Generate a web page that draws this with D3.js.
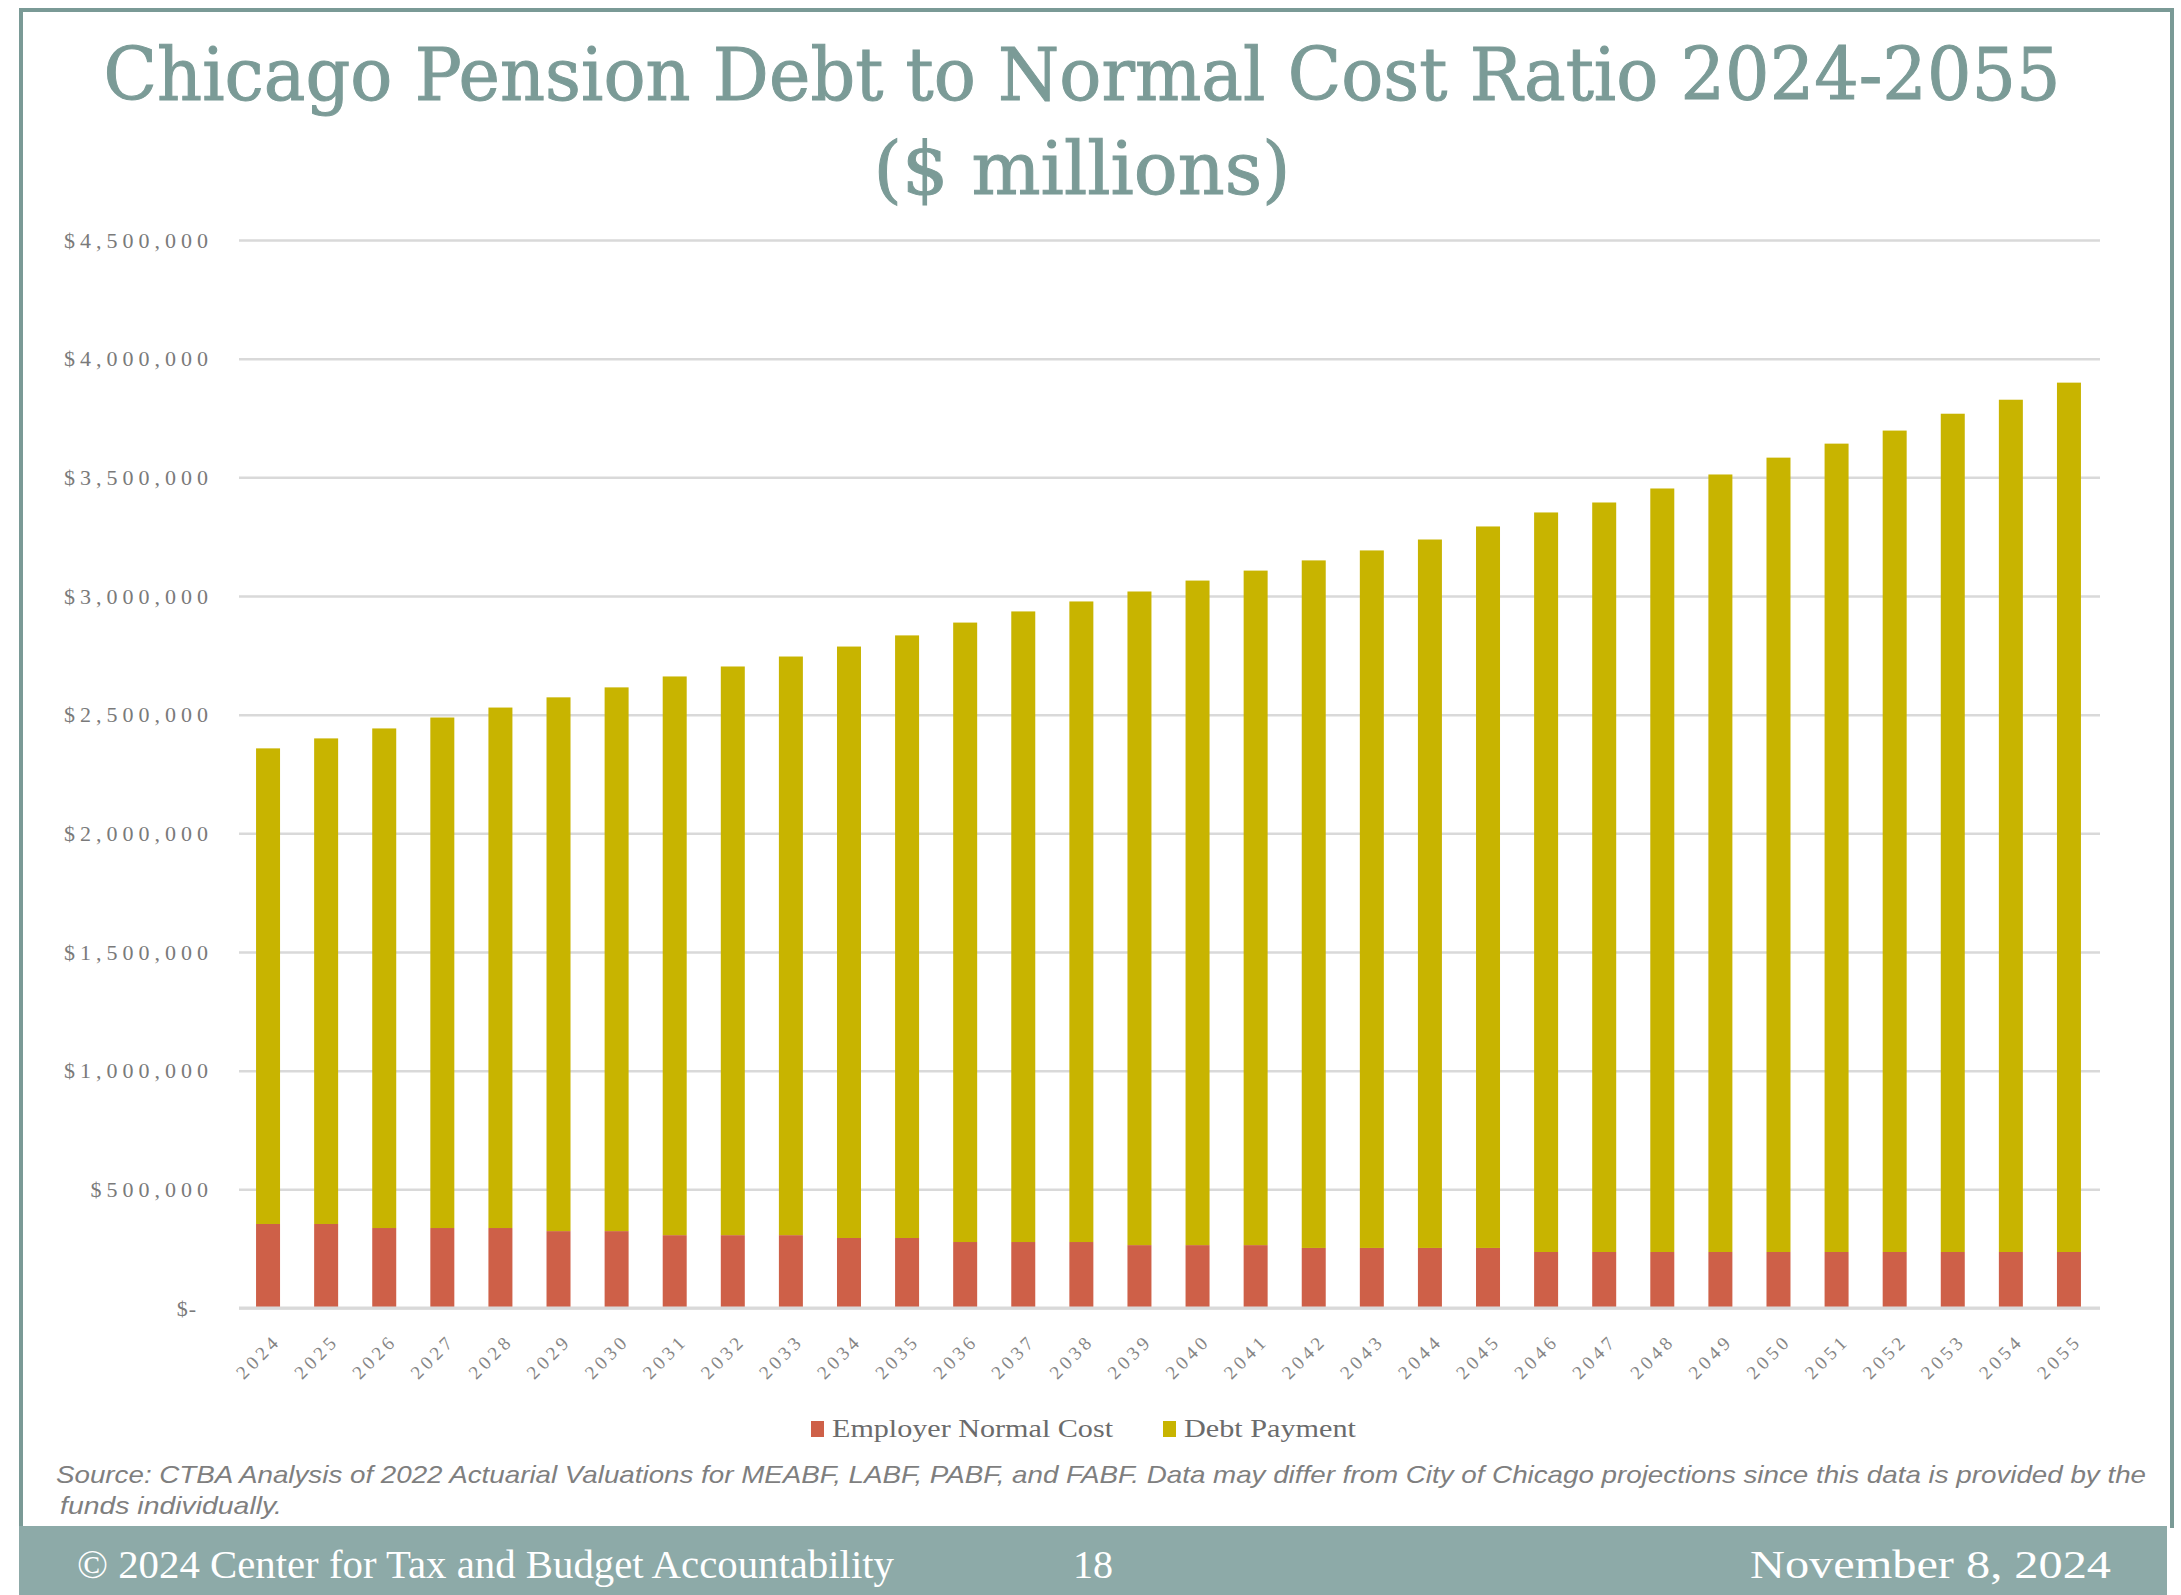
<!DOCTYPE html>
<html>
<head>
<meta charset="utf-8">
<script src="https://cdn.jsdelivr.net/npm/d3@7"></script>
<style>
  html, body { margin: 0; padding: 0; background: #ffffff; }
  svg { display: block; }
</style>
</head>
<body>
<svg id="chart" width="2181" height="1595"></svg>
<script>
// data
var years = d3.range(2024, 2056).map(String);

var normalCost = [
    354000, 354000, 337000, 337000, 337000, 324000, 324000, 307000,
    307000, 307000, 295000, 295000, 278000, 278000, 278000, 265000,
    265000, 265000, 253000, 253000, 253000, 253000, 236000, 236000,
    236000, 236000, 236000, 236000, 236000, 236000, 236000, 236000
];

var debtPayment = [
    2004000, 2046000, 2105000, 2151000, 2193000, 2249000, 2291000, 2354000,
    2396000, 2438000, 2492000, 2539000, 2610000, 2657000, 2699000, 2754000,
    2800000, 2842000, 2897000, 2939000, 2985000, 3040000, 3116000, 3158000,
    3217000, 3276000, 3347000, 3406000, 3461000, 3532000, 3591000, 3663000
];

var seriesNames = ["Employer Normal Cost", "Debt Payment"];
var seriesColors = ["#CE6048", "#C8B400"];
var yTicks = d3.range(0, 4500001, 500000);

var svg = d3.select("#chart");
var frameColor = "#7A9A96";

// slide frame
svg.append("rect").attr("x", 19).attr("y", 8).attr("width", 2155).attr("height", 4).attr("fill", frameColor);
svg.append("rect").attr("x", 19).attr("y", 8).attr("width", 4).attr("height", 1520).attr("fill", frameColor);
svg.append("rect").attr("x", 2170).attr("y", 8).attr("width", 4).attr("height", 1520).attr("fill", frameColor);

// title
svg.append("text")
    .attr("x", 1082).attr("y", 100)
    .attr("text-anchor", "middle")
    .attr("textLength", 1957).attr("lengthAdjust", "spacingAndGlyphs")
    .style("font-family", "'DejaVu Serif', serif")
    .style("font-size", "72px")
    .style("fill", "#7B9B97")
    .style("stroke", "#7B9B97")
    .style("stroke-width", 1)
    .text("Chicago Pension Debt to Normal Cost Ratio 2024-2055");

svg.append("text")
    .attr("x", 1082).attr("y", 194)
    .attr("text-anchor", "middle")
    .attr("textLength", 417).attr("lengthAdjust", "spacingAndGlyphs")
    .style("font-family", "'DejaVu Serif', serif")
    .style("font-size", "72px")
    .style("fill", "#7B9B97")
    .style("stroke", "#7B9B97")
    .style("stroke-width", 1)
    .text("($ millions)");

// scales
var xScale = d3.scaleBand()
    .domain(years)
    .range([239, 2098])
    .paddingInner(0.587)
    .paddingOuter(0.2935);

var yScale = d3.scaleLinear()
    .domain([0, 4500000])
    .range([1308, 240]);

// y axis + gridlines
var yAxis = d3.axisLeft(yScale)
    .tickValues(yTicks)
    .tickSize(-1861)
    .tickPadding(26)
    .tickFormat(function(d) { return d === 0 ? "$-" : "$" + d3.format(",")(d); });

var gy = svg.append("g")
    .attr("class", "y axis")
    .attr("transform", "translate(239,0)")
    .call(yAxis);

gy.select(".domain").remove();
gy.selectAll(".tick line")
    .style("stroke", "#D9D9D9")
    .style("stroke-width", 2.5);
gy.selectAll(".tick text")
    .style("font-family", "'Liberation Serif', serif")
    .style("font-size", "22px")
    .style("letter-spacing", function(d) { return d === 0 ? "1px" : "5px"; })
    .style("fill", "#7A7A7A")
    .attr("dx", function(d) { return d === 0 ? -16 : 0; });

// stacked bars
var rows = years.map(function(yr, i) {
    return {year: yr, "Employer Normal Cost": normalCost[i], "Debt Payment": debtPayment[i]};
});
var stacked = d3.stack().keys(seriesNames)(rows);

svg.selectAll("g.series")
    .data(stacked)
    .enter()
    .append("g")
    .attr("class", "series")
    .style("fill", function(d, i) { return seriesColors[i]; })
    .selectAll("rect")
    .data(function(d) { return d; })
    .enter()
    .append("rect")
    .attr("x", function(d) { return xScale(d.data.year); })
    .attr("width", xScale.bandwidth())
    .attr("y", function(d) { return yScale(d[1]); })
    .attr("height", function(d) { return yScale(d[0]) - yScale(d[1]); });

// baseline
svg.append("line")
    .attr("x1", 239).attr("x2", 2100)
    .attr("y1", yScale(0)).attr("y2", yScale(0))
    .style("stroke", "#D9D9D9")
    .style("stroke-width", 3);

// x labels
var xAxis = d3.axisBottom(xScale).tickSize(0).tickPadding(0);
var gx = svg.append("g")
    .attr("class", "x axis")
    .attr("transform", "translate(0,1308)")
    .call(xAxis);
gx.select(".domain").remove();
gx.selectAll(".tick text")
    .attr("text-anchor", "end")
    .attr("transform", "translate(14,34) rotate(-45)")
    .attr("y", 0).attr("dy", 0)
    .style("font-family", "'Liberation Serif', serif")
    .style("font-size", "19px")
    .style("letter-spacing", "4px")
    .style("fill", "#858585");

// legend
var legendX = [811, 1163];
var legendW = [281, 172];
var legend = svg.selectAll("g.legend")
    .data(seriesNames)
    .enter()
    .append("g")
    .attr("class", "legend")
    .attr("transform", function(d, i) { return "translate(" + legendX[i] + ",0)"; });

legend.append("rect")
    .attr("x", 0).attr("y", 1421)
    .attr("width", 13).attr("height", 16)
    .style("fill", function(d, i) { return seriesColors[i]; });

legend.append("text")
    .attr("x", 21).attr("y", 1437)
    .attr("textLength", function(d, i) { return legendW[i]; })
    .attr("lengthAdjust", "spacingAndGlyphs")
    .style("font-family", "'Liberation Serif', serif")
    .style("font-size", "26px")
    .style("fill", "#6B6B6B")
    .text(function(d) { return d; });

// source note
svg.append("text")
    .attr("x", 56).attr("y", 1483)
    .attr("textLength", 2090).attr("lengthAdjust", "spacingAndGlyphs")
    .style("font-family", "'Liberation Sans', sans-serif")
    .style("font-style", "italic")
    .style("font-size", "24px")
    .style("fill", "#7F7F7F")
    .text("Source: CTBA Analysis of 2022 Actuarial Valuations for MEABF, LABF, PABF, and FABF. Data may differ from City of Chicago projections since this data is provided by the");

svg.append("text")
    .attr("x", 60).attr("y", 1514)
    .attr("textLength", 222).attr("lengthAdjust", "spacingAndGlyphs")
    .style("font-family", "'Liberation Sans', sans-serif")
    .style("font-style", "italic")
    .style("font-size", "24px")
    .style("fill", "#7F7F7F")
    .text("funds individually.");

// footer band
svg.append("rect")
    .attr("x", 19).attr("y", 1526)
    .attr("width", 2148).attr("height", 69)
    .style("fill", "#8DAAA8");

var footer = [
    {text: "\u00A9 2024 Center for Tax and Budget Accountability", x: 77, w: 817},
    {text: "18", x: 1073, w: 40},
    {text: "November 8, 2024", x: 1750, w: 361}
];

svg.selectAll("text.footer")
    .data(footer)
    .enter()
    .append("text")
    .attr("class", "footer")
    .attr("x", function(d) { return d.x; })
    .attr("y", 1578)
    .attr("textLength", function(d) { return d.w; })
    .attr("lengthAdjust", "spacingAndGlyphs")
    .style("font-family", "'Liberation Serif', serif")
    .style("font-size", "40px")
    .style("fill", "#ffffff")
    .text(function(d) { return d.text; });
</script>
</body>
</html>
